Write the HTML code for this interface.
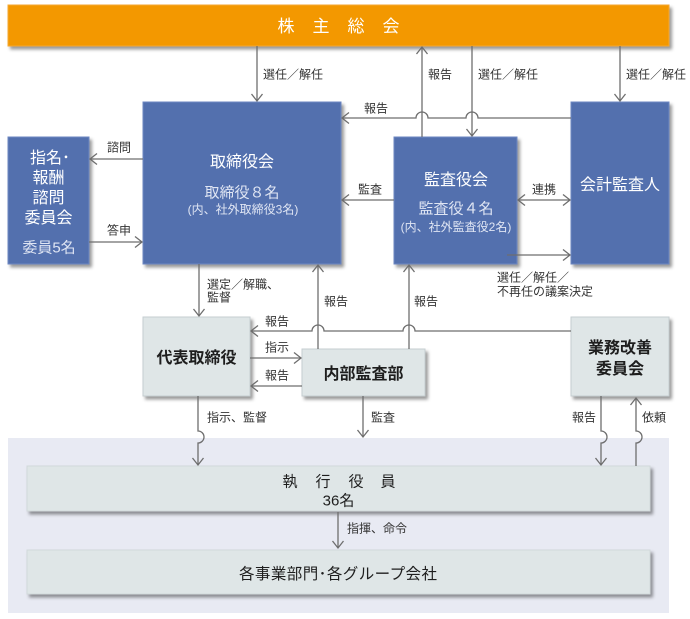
<!DOCTYPE html>
<html><head><meta charset="utf-8"><style>
html,body{margin:0;padding:0;background:#fff;}
svg{display:block;}
text{font-family:"Liberation Sans","Noto Sans CJK JP",sans-serif;}
.lb{font-size:12px;fill:#333;}
.wt{fill:#fff;font-size:16px;}
.ws{fill:#dfe5f3;}
.dk{fill:#1e1e1e;font-size:16px;font-weight:bold;}
</style></head><body>
<svg width="690" height="619" viewBox="0 0 690 619" xmlns="http://www.w3.org/2000/svg">
<defs>
<filter id="sh" x="-10%" y="-10%" width="125%" height="135%">
<feDropShadow dx="2.5" dy="3" stdDeviation="1.6" flood-color="#000" flood-opacity="0.4"/>
</filter>
<marker id="ah" markerUnits="userSpaceOnUse" markerWidth="12" markerHeight="14" viewBox="-1 -1 12 14" refX="8" refY="6" orient="auto-start-reverse">
<path d="M1,0.5 L8,6 L1,11.5" fill="none" stroke="#6e6e6e" stroke-width="1.3"/>
</marker>
</defs>

<!-- bottom panel -->
<rect x="8" y="438" width="661" height="175" fill="#e8eaf3"/>

<!-- orange bar -->
<rect x="8" y="5" width="661" height="41" fill="#f39800" stroke="#f5a830" stroke-width="1" filter="url(#sh)"/>
<text class="wt" x="286" y="32" text-anchor="middle" style="font-size:17px">株</text>
<text class="wt" x="321" y="32" text-anchor="middle" style="font-size:17px">主</text>
<text class="wt" x="356" y="32" text-anchor="middle" style="font-size:17px">総</text>
<text class="wt" x="391" y="32" text-anchor="middle" style="font-size:17px">会</text>

<!-- blue boxes -->
<rect x="143" y="102" width="198" height="162" fill="#5370ae" stroke="#6d87c2" stroke-width="1" filter="url(#sh)"/>
<rect x="8" y="137" width="81" height="127" fill="#5370ae" stroke="#6d87c2" stroke-width="1" filter="url(#sh)"/>
<rect x="394" y="137" width="123" height="127" fill="#5370ae" stroke="#6d87c2" stroke-width="1" filter="url(#sh)"/>
<rect x="571" y="102" width="98" height="162" fill="#5370ae" stroke="#6d87c2" stroke-width="1" filter="url(#sh)"/>

<!-- light boxes -->
<rect x="143" y="317" width="107" height="79" fill="#dfe6e7" stroke="#c6ced1" stroke-width="1" filter="url(#sh)"/>
<rect x="302" y="349" width="123" height="47" fill="#dfe6e7" stroke="#c6ced1" stroke-width="1" filter="url(#sh)"/>
<rect x="571" y="317" width="98" height="79" fill="#dfe6e7" stroke="#c6ced1" stroke-width="1" filter="url(#sh)"/>
<rect x="27" y="466" width="623" height="45" fill="#dfe6e7" stroke="#d2d9db" stroke-width="1" filter="url(#sh)"/>
<rect x="27" y="550" width="623" height="44" fill="#dfe6e7" stroke="#d2d9db" stroke-width="1" filter="url(#sh)"/>

<!-- connectors -->
<g fill="none" stroke="#6e6e6e" stroke-width="1.3">
<path d="M257,46 V101" marker-end="url(#ah)"/>
<path d="M422,137 V47" marker-end="url(#ah)"/>
<path d="M472,46 V136" marker-end="url(#ah)"/>
<path d="M620,46 V101" marker-end="url(#ah)"/>
<path d="M571,118 H478 A6,6 0 0 0 466,118 H428 A6,6 0 0 0 416,118 H342" marker-end="url(#ah)"/>
<path d="M394,200 H342" marker-end="url(#ah)"/>
<path d="M518,200 H570" marker-start="url(#ah)" marker-end="url(#ah)"/>
<path d="M507,255 H570" marker-end="url(#ah)"/>
<path d="M143,159 H90" marker-end="url(#ah)"/>
<path d="M89,242 H142" marker-end="url(#ah)"/>
<path d="M199,264 V316" marker-end="url(#ah)"/>
<path d="M318,349 V265" marker-end="url(#ah)"/>
<path d="M409,349 V265" marker-end="url(#ah)"/>
<path d="M571,331 H415 A6,6 0 0 0 403,331 H324 A6,6 0 0 0 312,331 H251" marker-end="url(#ah)"/>
<path d="M250,358 H301" marker-end="url(#ah)"/>
<path d="M302,386 H251" marker-end="url(#ah)"/>
<path d="M198,396 V431 A6,6 0 0 1 198,443 V465" marker-end="url(#ah)"/>
<path d="M363,396 V437" marker-end="url(#ah)"/>
<path d="M601,396 V431 A6,6 0 0 1 601,443 V465" marker-end="url(#ah)"/>
<path d="M636,466 V443 A6,6 0 0 0 636,431 V398" marker-end="url(#ah)"/>
<path d="M338,512 V548" marker-end="url(#ah)"/>
</g>

<!-- connector labels -->
<text class="lb" x="263" y="78.5">選任／解任</text>
<text class="lb" x="428" y="78.5">報告</text>
<text class="lb" x="478" y="78.5">選任／解任</text>
<text class="lb" x="626" y="78.5">選任／解任</text>
<text class="lb" x="364" y="112.5">報告</text>
<text class="lb" x="358" y="193.5">監査</text>
<text class="lb" x="532" y="193.5">連携</text>
<text class="lb" x="497" y="281.5">選任／解任／</text>
<text class="lb" x="497" y="295.5">不再任の議案決定</text>
<text class="lb" x="107" y="151.5">諮問</text>
<text class="lb" x="107" y="234.5">答申</text>
<text class="lb" x="207" y="288.5">選定／解職、</text>
<text class="lb" x="207" y="301.5">監督</text>
<text class="lb" x="324" y="305.5">報告</text>
<text class="lb" x="414" y="305.5">報告</text>
<text class="lb" x="265" y="325.5">報告</text>
<text class="lb" x="265" y="351.5">指示</text>
<text class="lb" x="265" y="379.5">報告</text>
<text class="lb" x="207" y="421.5">指示、監督</text>
<text class="lb" x="371" y="421.5">監査</text>
<text class="lb" x="572" y="421.5">報告</text>
<text class="lb" x="642" y="421.5">依頼</text>
<text class="lb" x="347" y="532.5">指揮、命令</text>

<!-- 取締役会 -->
<text class="wt" x="242" y="167" text-anchor="middle">取締役会</text>
<text class="ws" x="242" y="197.5" text-anchor="middle" style="font-size:15px">取締役８名</text>
<text class="ws" x="243" y="213.5" text-anchor="middle" style="font-size:12px">(内、社外取締役3名)</text>

<!-- 指名・報酬諮問委員会 -->
<text class="wt" x="50" y="163" text-anchor="middle">指名･</text>
<text class="wt" x="48.5" y="183" text-anchor="middle">報酬</text>
<text class="wt" x="48.5" y="203" text-anchor="middle">諮問</text>
<text class="wt" x="48.5" y="223" text-anchor="middle">委員会</text>
<text class="ws" x="49" y="252.5" text-anchor="middle" style="font-size:15px">委員5名</text>

<!-- 監査役会 -->
<text class="wt" x="456" y="185" text-anchor="middle">監査役会</text>
<text class="ws" x="456" y="213.5" text-anchor="middle" style="font-size:15px">監査役４名</text>
<text class="ws" x="456" y="231" text-anchor="middle" style="font-size:12px">(内、社外監査役2名)</text>

<!-- 会計監査人 -->
<text class="wt" x="620" y="190" text-anchor="middle">会計監査人</text>

<!-- light box texts -->
<text class="dk" x="196.5" y="363" text-anchor="middle">代表取締役</text>
<text class="dk" x="363.5" y="379" text-anchor="middle">内部監査部</text>
<text class="dk" x="620" y="353" text-anchor="middle">業務改善</text>
<text class="dk" x="620" y="374" text-anchor="middle">委員会</text>

<text x="290" y="486.5" text-anchor="middle" style="font-size:15px;fill:#1e1e1e">執</text>
<text x="323" y="486.5" text-anchor="middle" style="font-size:15px;fill:#1e1e1e">行</text>
<text x="356" y="486.5" text-anchor="middle" style="font-size:15px;fill:#1e1e1e">役</text>
<text x="388" y="486.5" text-anchor="middle" style="font-size:15px;fill:#1e1e1e">員</text>
<text x="338.5" y="505.5" text-anchor="middle" style="font-size:15px;fill:#1e1e1e">36名</text>

<text x="338" y="579" text-anchor="middle" style="font-size:15.5px;fill:#1e1e1e" textLength="198">各事業部門･各グループ会社</text>
</svg>
</body></html>
